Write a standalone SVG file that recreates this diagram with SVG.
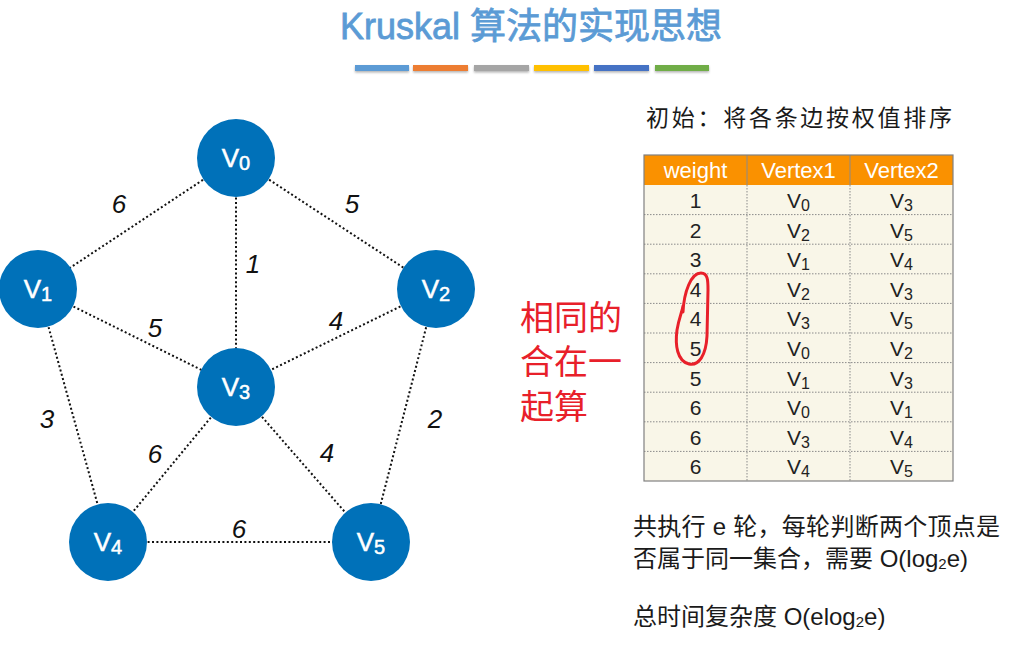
<svg xmlns="http://www.w3.org/2000/svg" width="1030" height="647" viewBox="0 0 1030 647">
<style>
.title{font-family:"Liberation Sans","Noto Sans CJK SC",sans-serif;font-size:36px;fill:#5B9BD5;stroke:#5B9BD5;stroke-width:0.8;text-anchor:middle}
.node circle{fill:#0071B9}
.nl{font-family:"Liberation Sans",Arial,sans-serif;font-size:26px;fill:#fff;stroke:#fff;stroke-width:0.5;text-anchor:middle}
.sub{font-size:20px}
.edge{stroke:#111;stroke-width:2;stroke-dasharray:2 2.4;fill:none}
.el{font-family:"Liberation Sans",Arial,sans-serif;font-size:26px;font-style:italic;fill:#111;text-anchor:middle}
.th{font-family:"Liberation Sans",Arial,sans-serif;font-size:22px;fill:#fff;text-anchor:middle}
.td{font-family:"Liberation Sans",Arial,sans-serif;font-size:21px;fill:#222;text-anchor:middle}
.ts{font-size:16px}
.grid{stroke:#8a8a8a;stroke-width:1;stroke-dasharray:1.5 1.5}
.cjk{font-family:"Liberation Sans","Noto Sans CJK SC",sans-serif;fill:#1a1a1a}
.red{font-family:"Noto Sans CJK SC",sans-serif;font-size:34px;fill:#E8202A}
</style>
<defs>
<filter id="sh" x="-10%" y="-50%" width="120%" height="250%"><feDropShadow dx="0" dy="1.5" stdDeviation="1" flood-color="#000" flood-opacity="0.3"/></filter>
</defs>
<rect width="1030" height="647" fill="#fff"/>
<text class="title" x="531" y="39">Kruskal 算法的实现思想</text>
<g id="bars" filter="url(#sh)">
<rect x="355" y="65" width="54" height="6" fill="#5B9BD5"/>
<rect x="413" y="65" width="55" height="6" fill="#ED7D31"/>
<rect x="474" y="65" width="55" height="6" fill="#A5A5A5"/>
<rect x="534" y="65" width="55" height="6" fill="#FFC000"/>
<rect x="594" y="65" width="55" height="6" fill="#4472C4"/>
<rect x="655" y="65" width="54" height="6" fill="#70AD47"/>
</g>
<g id="connectors">
<line class="edge" x1="236" y1="158" x2="38" y2="289"/>
<line class="edge" x1="236" y1="158" x2="436" y2="289"/>
<line class="edge" x1="236" y1="158" x2="236" y2="387"/>
<line class="edge" x1="38" y1="289" x2="236" y2="387"/>
<line class="edge" x1="436" y1="289" x2="236" y2="387"/>
<line class="edge" x1="38" y1="289" x2="108" y2="542"/>
<line class="edge" x1="436" y1="289" x2="371" y2="542"/>
<line class="edge" x1="236" y1="387" x2="108" y2="542"/>
<line class="edge" x1="236" y1="387" x2="371" y2="542"/>
<line class="edge" x1="108" y1="542" x2="371" y2="542"/>
<text class="el" x="119" y="213">6</text>
<text class="el" x="352" y="213">5</text>
<text class="el" x="253" y="273">1</text>
<text class="el" x="155" y="337">5</text>
<text class="el" x="336" y="330">4</text>
<text class="el" x="47" y="428">3</text>
<text class="el" x="435" y="428">2</text>
<text class="el" x="155" y="463">6</text>
<text class="el" x="327" y="462">4</text>
<text class="el" x="239" y="538">6</text>
</g>
<g id="V0" class="node"><circle cx="236" cy="158" r="39"/><text class="nl" x="236" y="167">V<tspan class="sub" dy="3">0</tspan></text></g>
<g id="V1" class="node"><circle cx="38" cy="289" r="39"/><text class="nl" x="38" y="298">V<tspan class="sub" dy="3">1</tspan></text></g>
<g id="V2" class="node"><circle cx="436" cy="289" r="39"/><text class="nl" x="436" y="298">V<tspan class="sub" dy="3">2</tspan></text></g>
<g id="V3" class="node"><circle cx="236" cy="387" r="39"/><text class="nl" x="236" y="396">V<tspan class="sub" dy="3">3</tspan></text></g>
<g id="V4" class="node"><circle cx="108" cy="542" r="39"/><text class="nl" x="108" y="551">V<tspan class="sub" dy="3">4</tspan></text></g>
<g id="V5" class="node"><circle cx="371" cy="542" r="39"/><text class="nl" x="371" y="551">V<tspan class="sub" dy="3">5</tspan></text></g>
<text class="cjk" x="646" y="126" font-size="23" textLength="306" lengthAdjust="spacing">初始：将各条边按权值排序</text>
<g id="table">
<rect x="644" y="185" width="309" height="296" fill="#F9F6E8"/>
<rect x="644" y="155" width="309" height="30" fill="#FA9100"/>
<line x1="747" y1="155" x2="747" y2="185" stroke="#8a8a8a" stroke-width="1"/>
<line x1="850" y1="155" x2="850" y2="185" stroke="#8a8a8a" stroke-width="1"/>
<line class="grid" x1="747" y1="185" x2="747" y2="481"/>
<line class="grid" x1="850" y1="185" x2="850" y2="481"/>
<line class="grid" x1="644" y1="214.6" x2="953" y2="214.6"/>
<line class="grid" x1="644" y1="244.2" x2="953" y2="244.2"/>
<line class="grid" x1="644" y1="273.8" x2="953" y2="273.8"/>
<line class="grid" x1="644" y1="303.4" x2="953" y2="303.4"/>
<line class="grid" x1="644" y1="333" x2="953" y2="333"/>
<line class="grid" x1="644" y1="362.6" x2="953" y2="362.6"/>
<line class="grid" x1="644" y1="392.2" x2="953" y2="392.2"/>
<line class="grid" x1="644" y1="421.8" x2="953" y2="421.8"/>
<line class="grid" x1="644" y1="451.4" x2="953" y2="451.4"/>
<rect x="644" y="155" width="309" height="326" fill="none" stroke="#808080" stroke-width="1.2"/>
<text class="th" x="695.5" y="178">weight</text>
<text class="th" x="798.5" y="178">Vertex1</text>
<text class="th" x="901.5" y="178">Vertex2</text>
<g>
<text class="td" x="695.5" y="208">1</text><text class="td" x="798.5" y="208">V<tspan class="ts" dy="3">0</tspan></text><text class="td" x="901.5" y="208">V<tspan class="ts" dy="3">3</tspan></text>
<text class="td" x="695.5" y="237.6">2</text><text class="td" x="798.5" y="237.6">V<tspan class="ts" dy="3">2</tspan></text><text class="td" x="901.5" y="237.6">V<tspan class="ts" dy="3">5</tspan></text>
<text class="td" x="695.5" y="267.2">3</text><text class="td" x="798.5" y="267.2">V<tspan class="ts" dy="3">1</tspan></text><text class="td" x="901.5" y="267.2">V<tspan class="ts" dy="3">4</tspan></text>
<text class="td" x="695.5" y="296.8">4</text><text class="td" x="798.5" y="296.8">V<tspan class="ts" dy="3">2</tspan></text><text class="td" x="901.5" y="296.8">V<tspan class="ts" dy="3">3</tspan></text>
<text class="td" x="695.5" y="326.4">4</text><text class="td" x="798.5" y="326.4">V<tspan class="ts" dy="3">3</tspan></text><text class="td" x="901.5" y="326.4">V<tspan class="ts" dy="3">5</tspan></text>
<text class="td" x="695.5" y="356">5</text><text class="td" x="798.5" y="356">V<tspan class="ts" dy="3">0</tspan></text><text class="td" x="901.5" y="356">V<tspan class="ts" dy="3">2</tspan></text>
<text class="td" x="695.5" y="385.6">5</text><text class="td" x="798.5" y="385.6">V<tspan class="ts" dy="3">1</tspan></text><text class="td" x="901.5" y="385.6">V<tspan class="ts" dy="3">3</tspan></text>
<text class="td" x="695.5" y="415.2">6</text><text class="td" x="798.5" y="415.2">V<tspan class="ts" dy="3">0</tspan></text><text class="td" x="901.5" y="415.2">V<tspan class="ts" dy="3">1</tspan></text>
<text class="td" x="695.5" y="444.8">6</text><text class="td" x="798.5" y="444.8">V<tspan class="ts" dy="3">3</tspan></text><text class="td" x="901.5" y="444.8">V<tspan class="ts" dy="3">4</tspan></text>
<text class="td" x="695.5" y="474.4">6</text><text class="td" x="798.5" y="474.4">V<tspan class="ts" dy="3">4</tspan></text><text class="td" x="901.5" y="474.4">V<tspan class="ts" dy="3">5</tspan></text>
</g>
</g>
<path id="mark" d="M683,312 C684,292 691,273 701,273 C708,273 708,281 708,290 L707,336 C706,355 699,366 689,364 C677,361 675,345 677,330 C679,318 682,312 683,306" fill="none" stroke="#E8202A" stroke-width="3" stroke-linecap="round"/>
<g id="note">
<text class="red" x="520" y="330">相同的<tspan x="520" dy="44">合在一</tspan><tspan x="520" dy="45">起算</tspan></text>
</g>
<g id="complexity" font-size="24">
<text class="cjk" x="633" y="535" textLength="367" lengthAdjust="spacing">共执行 e 轮，每轮判断两个顶点是</text>
<text class="cjk" x="633" y="567">否属于同一集合，需要 O(log<tspan font-size="15" dy="2">2</tspan><tspan dy="-2">e)</tspan></text>
<text class="cjk" x="633" y="625">总时间复杂度 O(elog<tspan font-size="15" dy="2">2</tspan><tspan dy="-2">e)</tspan></text>
</g>
</svg>
